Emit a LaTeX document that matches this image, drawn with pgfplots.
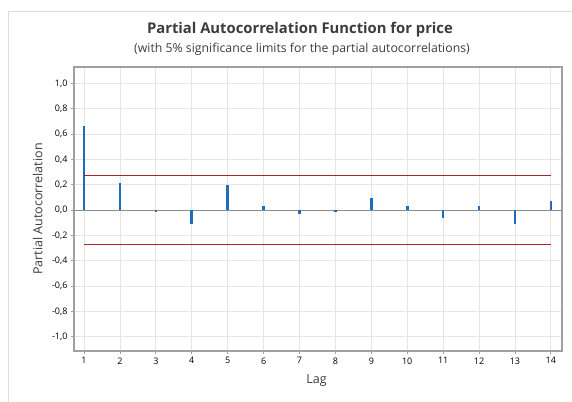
\documentclass[border=0pt]{standalone}
\usepackage{pgfplots}
\pgfplotsset{compat=1.18}
\usepackage{fontspec}
\setmainfont{Open Sans}
\definecolor{barblue}{RGB}{30,108,190}
\definecolor{limred}{RGB}{178,34,34}
\definecolor{txt}{RGB}{60,60,60}
\definecolor{framegray}{RGB}{220,220,220}
\definecolor{gridgray}{RGB}{230,230,230}
\definecolor{axisgray}{RGB}{160,160,160}
\definecolor{zerogray}{RGB}{140,140,140}
\begin{document}
\begin{tikzpicture}
\useasboundingbox (0pt,0pt) rectangle (572pt,401pt);
\draw[line width=1pt, framegray] (8pt,-5pt) -- (8pt,389pt) -- (580pt,389pt);
\node[font=\fontsize{14.8}{16}\selectfont\bfseries, text=txt] at (300pt,371pt) {Partial Autocorrelation Function for price};
\node[font=\fontsize{12.3}{14}\selectfont, text=txt] at (302pt,352pt) {(with 5\% significance limits for the partial autocorrelations)};
\begin{axis}[
  at={(74pt,50pt)}, anchor=south west,
  scale only axis, width=488pt, height=284pt,
  xmin=0.72, xmax=14.31, ymin=-1.113, ymax=1.129,
  xtick={1,...,14}, ytick={-1,-0.8,...,1.01},
  /pgf/number format/assume math mode=true,
  yticklabel style={/pgf/number format/.cd, use comma, fixed, fixed zerofill, precision=1},
  ticklabel style={font=\fontsize{9}{10}\selectfont, text=black},
  tick align=outside, tick pos=left,
  major tick length=3pt,
  tick style={draw=axisgray, line width=0.8pt},
  grid=major,
  grid style={draw=gridgray, line width=0.9pt},
  axis line style={draw=axisgray, line width=1.2pt},
  xlabel={Lag}, ylabel={Partial Autocorrelation},
  label style={font=\fontsize{12.5}{14}\selectfont, text=txt},
  xlabel style={at={(axis description cs:0.497,0)}, anchor=north, yshift=-20pt},
  ylabel style={at={(axis description cs:0,0.5)}, anchor=south, yshift=28pt},
  clip=false,
]
\addplot[color=zerogray, line width=1pt, mark=none] coordinates {(0.72,0) (14.31,0)};
\addplot[ycomb, color=barblue, line width=2.6pt, mark=none] coordinates {
(1,0.664) (2,0.211) (3,-0.016) (4,-0.113) (5,0.195) (6,0.035) (7,-0.028)
(8,-0.018) (9,0.092) (10,0.032) (11,-0.066) (12,0.032) (13,-0.113) (14,0.074)
};
\addplot[color=limred, line width=1.3pt, mark=none] coordinates {(1,-0.272) (14,-0.272)};
\addplot[color=limred, line width=1.3pt, mark=none] coordinates {(1,0.272) (14,0.272)};
\end{axis}
\end{tikzpicture}
\end{document}
